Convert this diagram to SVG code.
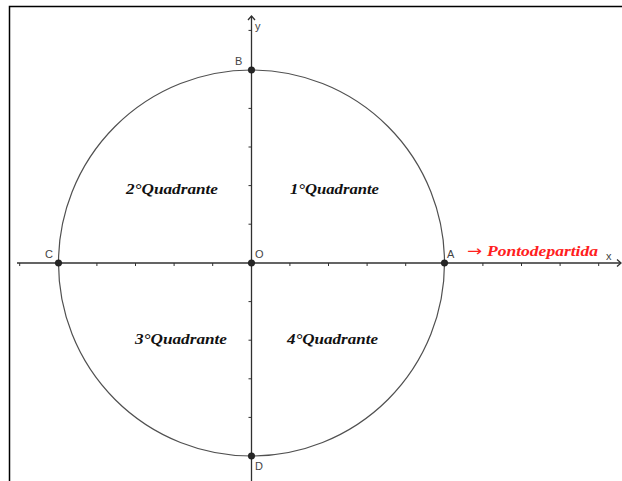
<svg xmlns="http://www.w3.org/2000/svg" width="622" height="481" viewBox="0 0 622 481">
<defs>
<style>
.frame{stroke:#000;stroke-width:1.5;fill:none}
.axis{stroke:#303030;stroke-width:1.3;fill:none}
.tick{stroke:#303030;stroke-width:1;fill:none}
.circ{stroke:#505050;stroke-width:1.2;fill:none}
.pt{fill:#262626;stroke:#111;stroke-width:0.5}
.lbl{font-family:"Liberation Sans",Arial,sans-serif;font-size:11px;fill:#444}
.q{font-family:"Liberation Serif","Times New Roman",serif;font-size:15px;font-weight:bold;font-style:italic;fill:#111}
.red{font-family:"Liberation Serif","Times New Roman",serif;font-size:15px;font-weight:bold;font-style:italic;fill:#ff2020}
.arr{font-family:"DejaVu Sans",sans-serif;font-size:15px;fill:#ff2020}
</style>
</defs>
<rect width="622" height="481" fill="#fff"/>
<g id="frame"><path class="frame" d="M9.5 481V6.5H622"/></g>
<g id="connectors">
<path class="axis" d="M17 263H621"/>
<path class="axis" d="M617 259.5L621 263L617 266.5"/>
<path class="axis" d="M251.5 481V16"/>
<path class="axis" d="M248 20L251.5 16L255 20"/>
<path class="tick" d="M19.7 263v3M58.3 263v3M96.9 263v3M135.5 263v3M174.1 263v3M212.7 263v3M289.9 263v3M328.5 263v3M367.1 263v3M405.7 263v3M444.3 263v3M482.9 263v3M521.5 263v3M560.1 263v3M598.7 263v3"/>
<path class="tick" d="M251.5 30.4h-3M251.5 69.8h-3M251.5 108.4h-3M251.5 147h-3M251.5 185.6h-3M251.5 224.2h-3M251.5 301.6h-3M251.5 340.2h-3M251.5 378.8h-3M251.5 417.4h-3M251.5 456h-3"/>
</g>
<g id="circle"><circle class="circ" cx="251.5" cy="263" r="193"/></g>
<g id="axis-labels">
<text class="lbl" x="255" y="30">y</text>
<text class="lbl" x="606" y="260">x</text>
</g>
<g id="O"><circle class="pt" cx="251.5" cy="263" r="3.3"/><text class="lbl" x="255" y="258">O</text></g>
<g id="A"><circle class="pt" cx="444.5" cy="263" r="3.3"/><text class="lbl" x="447" y="258">A</text></g>
<g id="B"><circle class="pt" cx="251.5" cy="70" r="3.3"/><text class="lbl" x="235" y="65">B</text></g>
<g id="C"><circle class="pt" cx="58.5" cy="263" r="3.3"/><text class="lbl" x="45" y="258">C</text></g>
<g id="D"><circle class="pt" cx="251.5" cy="456" r="3.3"/><text class="lbl" x="255" y="470">D</text></g>
<g id="q1"><text class="q" x="290" y="194" textLength="89" lengthAdjust="spacingAndGlyphs">1°Quadrante</text></g>
<g id="q2"><text class="q" x="126" y="194" textLength="92" lengthAdjust="spacingAndGlyphs">2°Quadrante</text></g>
<g id="q3"><text class="q" x="135" y="344" textLength="92" lengthAdjust="spacingAndGlyphs">3°Quadrante</text></g>
<g id="q4"><text class="q" x="287" y="344" textLength="91" lengthAdjust="spacingAndGlyphs">4°Quadrante</text></g>
<g id="start"><text class="arr" x="467" y="256" textLength="15" lengthAdjust="spacingAndGlyphs">→</text><text class="red" x="487" y="256" textLength="111" lengthAdjust="spacingAndGlyphs">Pontodepartida</text></g>
</svg>
